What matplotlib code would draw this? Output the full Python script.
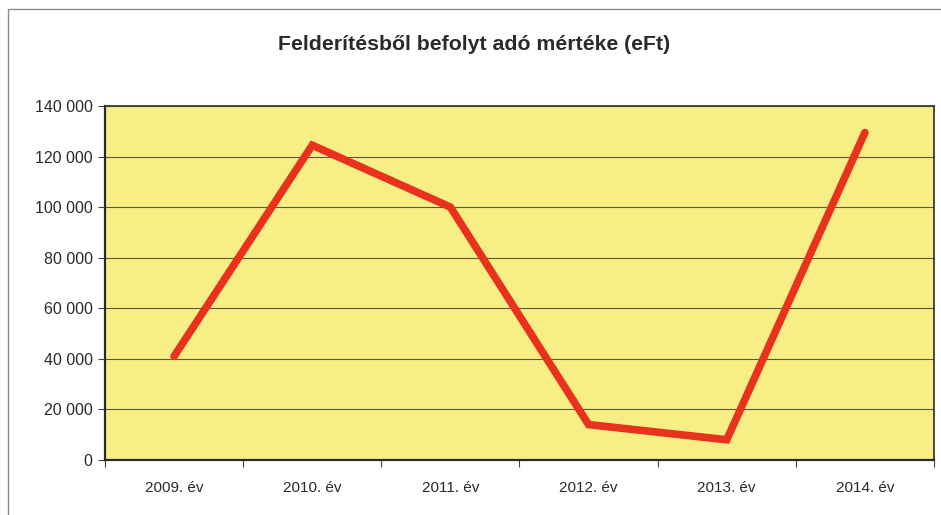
import matplotlib
matplotlib.use("Agg")
import matplotlib.pyplot as plt
from matplotlib.patches import Rectangle
from matplotlib.ticker import FuncFormatter, FixedLocator

categories = ["2009. év", "2010. év", "2011. év", "2012. év", "2013. év", "2014. év"]
values = [41000, 124500, 100000, 14000, 8000, 129500]
yticks = [0, 20000, 40000, 60000, 80000, 100000, 120000, 140000]
title = "Felderítésből befolyt adó mértéke (eFt)"

plt.rcParams['font.family'] = ['Liberation Sans', 'DejaVu Sans']

fig = plt.figure(figsize=(9.41, 5.15), dpi=100)
fig.patch.set_facecolor("white")
# outer chart border
fig.add_artist(Rectangle((8/941, -0.01), 1.0, (515-9)/515 + 0.01, transform=fig.transFigure,
                         fill=False, edgecolor="#8a8a8a", linewidth=1.0))

ax = fig.add_axes([105/941, (515-460)/515, 829/941, 354/515])
ax.set_facecolor("#F8EE86")

x = [i + 0.5 for i in range(len(categories))]
ax.plot(x, values, color="#E8321E", linewidth=5.5, solid_joinstyle="miter", solid_capstyle="round", zorder=3)

ax.set_xlim(0, len(categories))
ax.set_ylim(0, 140000)
ax.set_yticks(yticks)
ax.yaxis.set_major_formatter(FuncFormatter(lambda v, p: f"{int(v):,}".replace(",", " ")))
ax.grid(axis="y", color="#5a5a3a", linewidth=0.8, zorder=1)

ax.xaxis.set_major_locator(FixedLocator(list(range(len(categories) + 1))))
ax.xaxis.set_major_formatter(FuncFormatter(lambda v, p: ""))
ax.xaxis.set_minor_locator(FixedLocator(x))
ax.set_xticklabels(categories, minor=True)
ax.tick_params(axis="x", which="minor", length=0, pad=15, labelsize=11, labelcolor="#2a2a2a")
ax.tick_params(axis="x", which="major", length=5, color="#444444")
ax.tick_params(axis="y", length=5, color="#444444", labelsize=11.5, labelcolor="#2a2a2a", pad=4)

for s in ["left", "bottom"]:
    ax.spines[s].set_color("#2a2a2a")
    ax.spines[s].set_linewidth(1.6)
for s in ["right", "top"]:
    ax.spines[s].set_color("#3a3a3a")
    ax.spines[s].set_linewidth(1.3)

fig.text(0.5 + 8/941/2, (515-45)/515, title, ha="center", va="center",
         fontsize=15.3, fontweight="bold", color="#2a2a2a")

fig.savefig("out.png", dpi=100)
